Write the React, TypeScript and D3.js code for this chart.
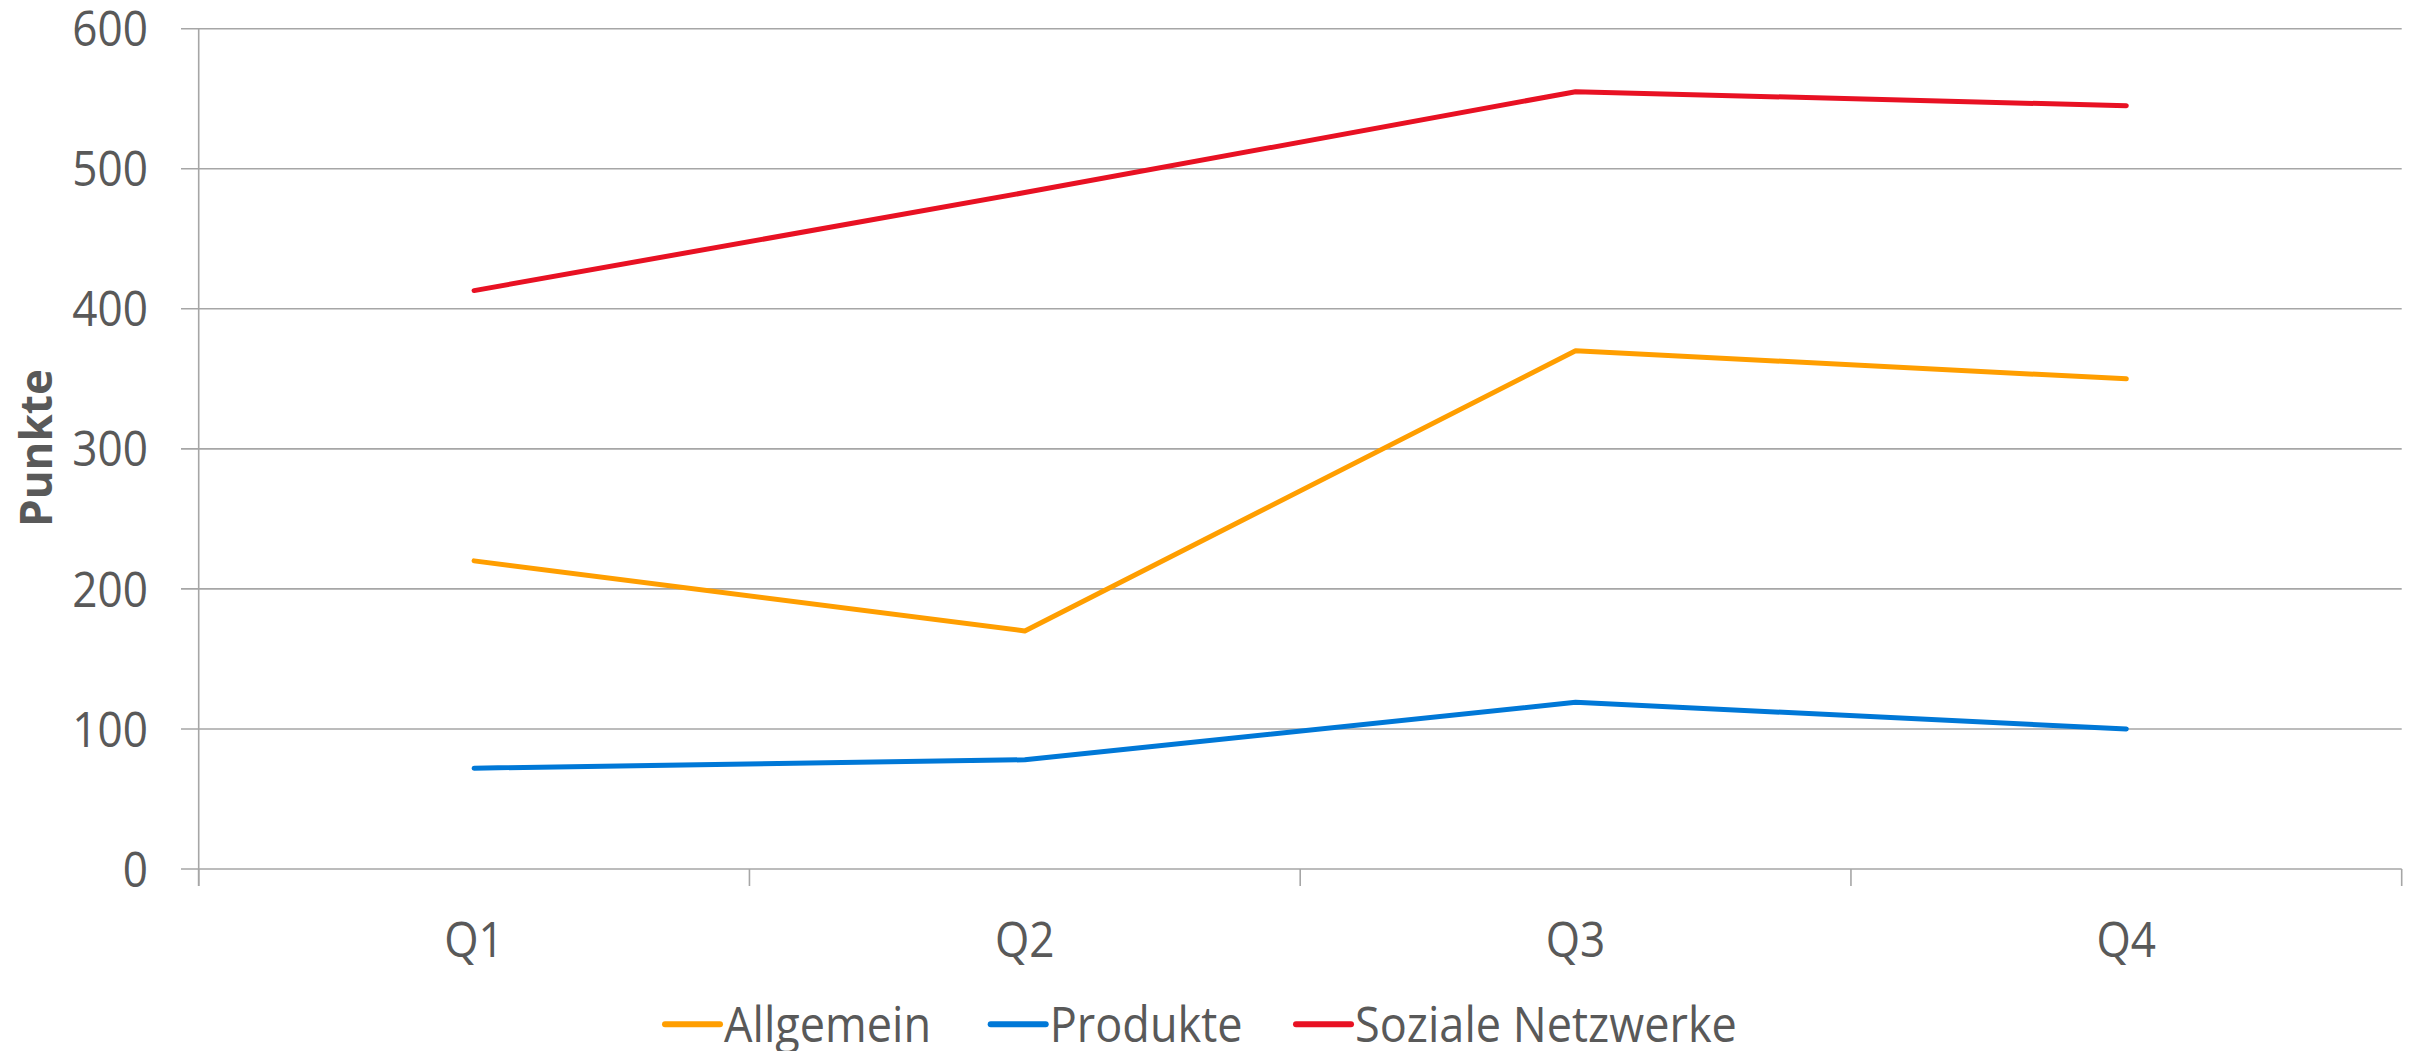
import React from "react";
import * as d3 from "d3";

const categories = ["Q1", "Q2", "Q3", "Q4"];
const seriesNames = ["Allgemein", "Produkte", "Soziale Netzwerke"];
const allgemein = [220, 170, 370, 350];
const produkte = [72, 78, 119, 100];
const sozialeNetzwerke = [413, 483, 555, 545];
const yTicks = [0, 100, 200, 300, 400, 500, 600];
const yTitle = "Punkte";

const seriesColors = ["#FF9E00", "#0078D7", "#E81123"];

const W = 2416;
const H = 1051;
const M = { left: 198.7, right: 2401.7, top: 28.7, bottom: 869 };
const FONT = "'Open Sans', 'Noto Sans', sans-serif";
const TEXT = "#595959";
const GRID = "#a6a6a6";
const FS = 49;
const SX = 0.9;
const SX_LEGEND = 0.92;

export default function App() {
  const x = d3.scaleBand<string>().domain(categories).range([M.left, M.right]).padding(0);
  const y = d3.scaleLinear().domain([0, 600]).range([M.bottom, M.top]);
  const series = [allgemein, produkte, sozialeNetzwerke];
  const line = d3
    .line<number>()
    .x((_, i) => (x(categories[i]) as number) + x.bandwidth() / 2)
    .y((d) => y(d));
  const boundaries = categories.map((c) => x(c) as number).concat([M.right]);
  const legendX = [665, 990.7, 1296];

  return (
    <svg
      width={W}
      height={H}
      style={{ position: "absolute", left: 0, top: 0, background: "#fff" }}
      fontFamily={FONT}
    >
      {yTicks.map((t) => (
        <g key={t}>
          <line x1={181} x2={M.right} y1={y(t)} y2={y(t)} stroke={GRID} strokeWidth={1.6} />
          <text
            transform={`translate(148,${y(t)}) scale(${SX},1)`}
            dy="0.36em"
            textAnchor="end"
            fontSize={FS}
            fill={TEXT}
          >
            {t}
          </text>
        </g>
      ))}
      <line x1={M.left} x2={M.left} y1={M.top} y2={886} stroke={GRID} strokeWidth={1.6} />
      {boundaries.map((b, i) => (
        <line key={i} x1={b} x2={b} y1={M.bottom} y2={886} stroke={GRID} strokeWidth={1.6} />
      ))}
      {categories.map((c) => (
        <text
          key={c}
          transform={`translate(${(x(c) as number) + x.bandwidth() / 2},956.7) scale(${SX},1)`}
          textAnchor="middle"
          fontSize={FS}
          fill={TEXT}
        >
          {c}
        </text>
      ))}
      <text
        transform={`translate(52,448) rotate(-90)`}
        textAnchor="middle"
        fontSize={44}
        fontWeight="bold"
        fill={TEXT}
      >
        {yTitle}
      </text>
      {series.map((s, i) => (
        <path
          key={i}
          d={line(s) as string}
          fill="none"
          stroke={seriesColors[i]}
          strokeWidth={5}
          strokeLinecap="round"
          strokeLinejoin="round"
        />
      ))}
      {seriesNames.map((n, i) => (
        <g key={n}>
          <line
            x1={legendX[i]}
            x2={legendX[i] + 55}
            y1={1024.3}
            y2={1024.3}
            stroke={seriesColors[i]}
            strokeWidth={6}
            strokeLinecap="round"
          />
          <text
            transform={`translate(${legendX[i] + 59},1041.7) scale(${SX_LEGEND},1)`}
            fontSize={FS}
            fill={TEXT}
          >
            {n}
          </text>
        </g>
      ))}
    </svg>
  );
}
